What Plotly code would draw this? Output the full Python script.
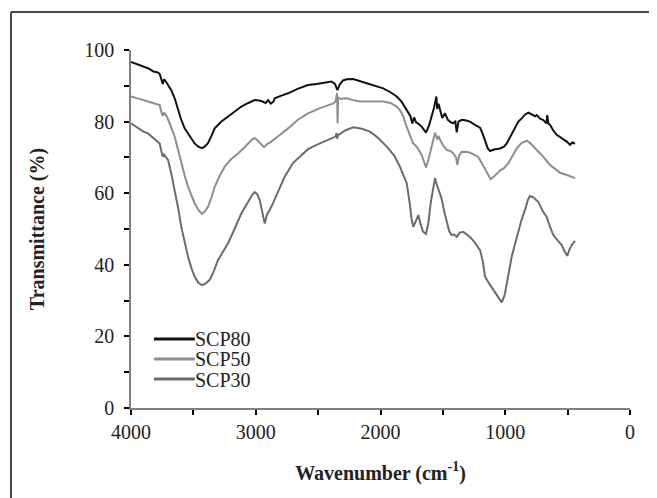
import plotly.graph_objects as go

# FTIR spectra
wn_scp80 = [4000, 3950, 3900, 3864, 3820, 3790, 3770, 3755, 3745, 3735, 3720, 3700, 3677, 3650, 3623,
            3600, 3570, 3530, 3490, 3460, 3431, 3410, 3383, 3355, 3329, 3280, 3222, 3170, 3115, 3060,
            3009, 2960, 2920, 2900, 2880, 2860, 2848, 2800, 2741, 2660, 2581, 2512, 2440, 2393, 2365,
            2346, 2325, 2300, 2271, 2218, 2111, 2040, 1978, 1920, 1870, 1830, 1790, 1760, 1745, 1730,
            1715, 1700, 1670, 1650, 1635, 1610, 1590, 1570, 1552, 1545, 1535, 1523, 1505, 1483, 1460,
            1443, 1420, 1400, 1389, 1375, 1349, 1320, 1283, 1240, 1202, 1180, 1162, 1140, 1122, 1090,
            1042, 1010, 988, 950, 922, 895, 868, 840, 815, 790, 760, 748, 720, 695, 670, 663, 655, 641,
            615, 588, 550, 507, 480, 460, 441]
t_scp80 = [96.7, 96.0, 95.2, 94.9, 94.0, 93.8, 93.3, 91.5, 90.5, 91.8, 91.2, 90.0, 88.8, 86.5, 83.2,
           80.8, 78.1, 75.8, 73.9, 73.0, 72.6, 73.0, 74.0, 76.0, 78.1, 79.9, 81.4, 82.8, 84.2, 85.2,
           86.0, 85.8, 85.2, 86.0, 85.0, 85.5, 86.5, 87.2, 87.9, 89.2, 90.2, 90.5, 91.0, 91.2, 90.5,
           88.8, 90.5, 91.5, 91.8, 91.9, 90.7, 90.0, 89.3, 88.2, 87.0, 85.5, 83.2, 81.5, 79.5, 81.2,
           79.8, 79.5, 78.6, 77.5, 76.9, 79.0, 81.4, 84.0, 87.0, 83.5, 85.0, 83.2, 81.0, 82.3, 80.5,
           80.0, 79.5, 80.0, 77.0, 80.0, 80.5, 80.4, 80.0, 79.0, 78.3, 76.5, 74.4, 72.5, 71.8, 72.2,
           72.5, 73.0, 73.9, 76.5, 78.6, 80.0, 80.9, 82.0, 82.5, 82.0, 81.5, 81.8, 80.8, 80.4, 79.5,
           81.8, 79.5, 79.1, 77.5, 76.3, 75.5, 74.4, 73.5, 74.2, 73.8]

wn_scp50 = [4000, 3950, 3900, 3864, 3820, 3790, 3770, 3755, 3745, 3735, 3715, 3690, 3650, 3620, 3597,
            3570, 3543, 3510, 3490, 3460, 3431, 3405, 3383, 3355, 3329, 3290, 3249, 3200, 3142, 3080,
            3030, 3009, 2985, 2960, 2934, 2905, 2875, 2810, 2741, 2660, 2581, 2490, 2420, 2378, 2360,
            2348, 2344, 2340, 2320, 2271, 2220, 2164, 2080, 1978, 1920, 1870, 1840, 1817, 1790, 1763,
            1740, 1723, 1700, 1670, 1650, 1635, 1615, 1598, 1580, 1563, 1545, 1535, 1523, 1500, 1470,
            1440, 1416, 1395, 1384, 1370, 1349, 1300, 1256, 1220, 1202, 1175, 1149, 1117, 1080, 1042,
            1010, 975, 940, 908, 870, 828, 800, 775, 740, 708, 670, 641, 600, 561, 500, 441]
t_scp50 = [87.0, 86.6, 86.0, 85.6, 85.2, 84.9, 84.6, 82.5, 81.6, 82.5, 81.6, 79.5, 75.8, 71.8, 68.4,
           65.0, 61.8, 58.8, 57.2, 55.3, 54.2, 55.0, 56.2, 58.8, 61.8, 64.8, 67.4, 69.4, 71.1, 73.2,
           75.0, 75.4, 74.8, 73.8, 72.9, 73.8, 74.4, 76.2, 78.1, 80.6, 82.3, 83.7, 84.6, 85.1, 85.6,
           88.0, 79.5, 86.8, 86.3, 86.5, 86.0, 85.6, 85.6, 85.6, 85.2, 84.2, 83.0, 81.4, 78.5, 75.8,
           74.0, 73.5, 72.5, 70.7, 68.8, 67.2, 69.5, 72.1, 74.5, 76.9, 75.0, 76.0, 74.9, 73.5, 72.1,
           71.8, 71.1, 70.0, 67.9, 70.5, 71.6, 71.5, 70.9, 70.2, 69.3, 67.5, 65.6, 63.9, 65.0, 66.3,
           67.0, 68.4, 70.5, 72.5, 74.0, 74.7, 74.0, 73.0, 71.8, 70.7, 69.0, 67.9, 66.8, 65.7, 65.0, 64.2]

wn_scp30 = [4000, 3950, 3900, 3864, 3820, 3790, 3770, 3755, 3745, 3735, 3703, 3680, 3650, 3620, 3597,
            3570, 3543, 3515, 3490, 3460, 3431, 3400, 3369, 3335, 3303, 3260, 3222, 3170, 3115, 3060,
            3030, 3009, 2990, 2968, 2945, 2928, 2910, 2875, 2820, 2768, 2700, 2645, 2581, 2512, 2430,
            2360, 2352, 2348, 2340, 2280, 2218, 2150, 2084, 2020, 1950, 1890, 1844, 1810, 1790, 1765,
            1750, 1737, 1715, 1697, 1680, 1660, 1635, 1615, 1598, 1580, 1563, 1550, 1540, 1525, 1510,
            1490, 1470, 1450, 1430, 1410, 1389, 1365, 1336, 1310, 1283, 1250, 1220, 1202, 1180, 1162,
            1130, 1096, 1060, 1028, 1005, 988, 970, 948, 920, 895, 870, 842, 820, 802, 770, 750, 735,
            700, 668, 640, 615, 580, 548, 520, 503, 485, 467, 441]
t_scp30 = [79.5, 78.3, 77.2, 76.7, 75.5, 74.6, 73.9, 71.5, 70.2, 70.8, 69.3, 66.0, 60.9, 55.5, 50.6,
           46.0, 42.3, 39.0, 36.7, 35.0, 34.3, 34.8, 35.8, 38.3, 41.3, 43.8, 46.0, 50.0, 54.4, 57.6,
           59.5, 60.3, 59.8, 58.1, 54.5, 51.5, 54.0, 56.2, 60.5, 64.6, 68.5, 70.2, 72.3, 73.5, 74.8,
           75.8, 76.8, 75.2, 76.2, 77.6, 78.4, 78.0, 77.2, 75.5, 73.0, 70.5, 67.4, 64.5, 62.8, 57.0,
           52.5, 50.6, 52.5, 53.9, 51.5, 49.3, 48.6, 52.0, 57.2, 61.5, 64.2, 62.5, 61.5, 60.3, 58.5,
           55.0, 52.5, 49.5, 48.3, 48.5, 47.8, 49.0, 49.2, 48.5, 47.8, 46.5, 45.0, 44.1, 41.0, 36.7,
           34.8, 33.0, 31.0, 29.5, 31.5, 34.8, 38.5, 42.3, 46.0, 49.7, 52.5, 55.3, 58.0, 59.2, 58.8,
           58.0, 57.6, 55.0, 53.4, 50.5, 48.3, 46.8, 45.5, 43.5, 42.5, 44.3, 45.5, 46.7]

SERIES = [
    ("SCP80", wn_scp80, t_scp80, "#111111"),
    ("SCP50", wn_scp50, t_scp50, "#8e8e8e"),
    ("SCP30", wn_scp30, t_scp30, "#6c6c6c"),
]

FONT = "Liberation Serif"
TEXT = "#222222"

fig = go.Figure()
for name, x, y, color in SERIES:
    fig.add_trace(go.Scatter(x=x, y=y, name=name, mode="lines", showlegend=False,
                             line=dict(color=color, width=2)))

# Excel-style compact legend: short key line + label, rows tighter than plotly's own legend allows
for i, (name, _, _, color) in enumerate(SERIES):
    yk = 0.193 - i * 0.056
    fig.add_shape(type="line", xref="paper", yref="paper", x0=0.046, x1=0.128, y0=yk, y1=yk,
                  line=dict(color=color, width=3))
    fig.add_annotation(text=name, xref="paper", yref="paper", x=0.126, y=yk, xanchor="left",
                       yanchor="middle", showarrow=False, height=19, borderpad=0,
                       font=dict(family=FONT, size=20, color=TEXT))

axis_common = dict(
    showgrid=False, zeroline=False, showline=True, linecolor="#808080", linewidth=1.5,
    ticks="outside", ticklen=5, tickwidth=1.5, tickcolor="black",
    tickfont=dict(family=FONT, size=20, color=TEXT),
)
fig.update_xaxes(range=[4000, 0], dtick=1000, **axis_common,
                 minor=dict(dtick=500, ticks="outside", ticklen=5, tickwidth=1.5, tickcolor="black"),
                 title=dict(text="<b>Wavenumber (cm<sup>-1</sup>)</b>", standoff=24,
                            font=dict(family=FONT, size=20, color=TEXT)))
fig.update_yaxes(range=[0, 100], dtick=20, **axis_common, ticklabelstandoff=6,
                 minor=dict(dtick=10, ticks="outside", ticklen=5, tickwidth=1.5, tickcolor="black"),
                 title=dict(text="<b>Transmittance (%)</b>", standoff=34,
                            font=dict(family=FONT, size=20, color=TEXT)))

# frame lines along the top and left edges of the picture
fig.add_shape(type="line", xref="paper", yref="paper", x0=-0.2405, x1=1.07, y0=1.106, y1=1.106,
              line=dict(color="#4a4a4a", width=2))
fig.add_shape(type="line", xref="paper", yref="paper", x0=-0.2405, x1=-0.2405, y0=1.106, y1=-0.27,
              line=dict(color="#4a4a4a", width=2))

# the page adds an 8px body margin, so the figure is sized and offset to compensate
fig.update_layout(
    width=649, height=490,
    margin=dict(l=123, r=27, t=42, b=90, autoexpand=False),
    paper_bgcolor="white", plot_bgcolor="white",
    font=dict(family=FONT, color=TEXT),
)

fig.write_html("out.html")
